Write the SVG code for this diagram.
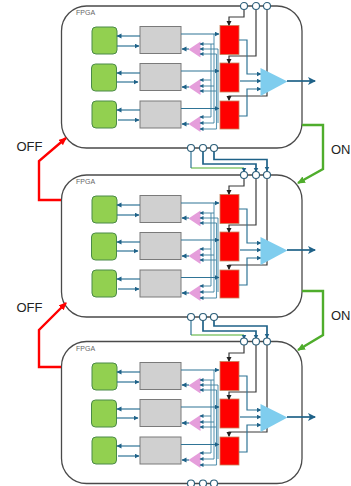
<svg xmlns="http://www.w3.org/2000/svg" xmlns:xlink="http://www.w3.org/1999/xlink" width="351" height="486" viewBox="0 0 351 486">
<style>
text{font-family:"Liberation Sans",Arial,sans-serif}
.lbl{font-size:13px;fill:#222}
.fp{font-size:7px;fill:#666}
.panel{fill:#fff;stroke:#4a4a4a;stroke-width:1.3}
.g{fill:#92d050;stroke:#4a8a48;stroke-width:1}
.b{fill:#d0d0d0;stroke:#7a7a7a;stroke-width:1}
.r{fill:#ff0000;stroke:#c8805a;stroke-width:.8}
.p{fill:#e59edb}
.a{fill:#7fcdee}
.w{fill:none;stroke:#5f9ab5;stroke-width:1.1}
.wa{fill:none;stroke:#2f7496;stroke-width:1.2;marker-end:url(#mb)}
.ws{fill:none;stroke:#3b7d9c;stroke-width:.9;marker-end:url(#ms)}
.t{fill:none;stroke:#1f6288;stroke-width:1.7;marker-end:url(#mb)}
.ka{fill:none;stroke:#3a3a3a;stroke-width:1.2;marker-end:url(#mk)}
.c{fill:#fff;stroke:#2d5f7a;stroke-width:1.1}
.on{fill:none;stroke:#4fad2c;stroke-width:2.4;marker-end:url(#mg)}
.off{fill:none;stroke:#ff0000;stroke-width:2.4;marker-end:url(#mr)}
.gl{fill:none;stroke:#4fad2c;stroke-width:1.2}
</style>
<defs>
<marker id="mb" markerWidth="6" markerHeight="6" refX="4.5" refY="2.5" orient="auto" markerUnits="userSpaceOnUse"><path d="M0 0L5 2.500L0 5z" fill="#1f6288"/></marker>
<marker id="ms" markerWidth="5" markerHeight="5" refX="3.5" refY="2" orient="auto" markerUnits="userSpaceOnUse"><path d="M0 0L4 2L0 4z" fill="#1f6288"/></marker>
<marker id="mk" markerWidth="6" markerHeight="6" refX="4" refY="2.5" orient="auto" markerUnits="userSpaceOnUse"><path d="M0 0L5 2.500L0 5z" fill="#222"/></marker>
<marker id="mg" markerWidth="9" markerHeight="8" refX="7" refY="3.5" orient="auto" markerUnits="userSpaceOnUse"><path d="M0 0L8 3.500L0 7z" fill="#4fad2c"/></marker>
<marker id="mr" markerWidth="9" markerHeight="8" refX="7" refY="3.5" orient="auto" markerUnits="userSpaceOnUse"><path d="M0 0L8 3.500L0 7z" fill="#ff0000"/></marker>
<g id="inner">
<rect class="g" x="92" y="27" width="25" height="27" rx="4"/>
<rect class="g" x="91.500" y="64" width="25" height="27" rx="4"/>
<rect class="g" x="92" y="101" width="24.500" height="27" rx="4"/>
<rect class="b" x="140" y="26.500" width="41" height="27"/>
<rect class="b" x="140" y="63.500" width="41" height="27"/>
<rect class="b" x="140" y="101" width="41" height="27"/>
<path class="wa" d="M140 36H117"/><path class="wa" d="M117 46H139"/>
<path class="wa" d="M140 73H117"/><path class="wa" d="M117 82H138"/>
<path class="wa" d="M140 110H117"/><path class="wa" d="M118 120H139"/>
<path class="w" d="M211 44V91M214 49V123M216.500 54V129M214 34V49M211 71V117M218 49V123"/>
<path class="wa" d="M181 34H219"/>
<path class="wa" d="M181 71H219"/>
<path class="wa" d="M181 108.500H219"/>
<path class="p" d="M188.500 49.500L200.500 41.500V57.500zM188.500 87L200.500 79V95zM188.500 124L200.500 116V132z"/>
<path class="ws" d="M214 44H200"/><path class="ws" d="M218 49H200"/><path class="ws" d="M216.500 54H200"/>
<path class="ws" d="M211 80H200"/><path class="ws" d="M214 86H200"/><path class="ws" d="M216 91H200"/>
<path class="ws" d="M211 117H200"/><path class="ws" d="M214 123H200"/><path class="ws" d="M216.500 129H200"/>
<path class="wa" d="M189 49H182"/><path class="wa" d="M189 87H182"/><path class="wa" d="M189 124H182"/>
<rect class="r" x="220" y="25.500" width="19" height="29"/>
<rect class="r" x="220" y="63" width="19" height="29"/>
<rect class="r" x="220" y="101" width="19" height="28"/>
<path class="ka" d="M244 9V17H229V25"/>
<path class="ka" d="M256 9V56H229V63"/>
<path class="ka" d="M267 9V96H229V100"/>
<path class="wa" d="M239 40H247V74H261"/>
<path class="wa" d="M240 81H261"/>
<path class="wa" d="M239 116H247V89H261"/>
<path class="a" d="M260.500 68L287.500 81.500L260.500 96z"/>
<path d="M287 81H315" fill="none" stroke="#1f6288" stroke-width="1.7"/>
<path d="M308 77L316 81L308 85L310 81z" fill="#1f6288"/>
</g>
</defs>

<g id="panel-1">
<rect class="panel" x="61.500" y="6" width="240.500" height="142" rx="25"/>
<text class="fp" x="76" y="15">FPGA</text>
<use href="#inner" xlink:href="#inner"/>
</g>
<g id="panel-2">
<rect class="panel" x="61.500" y="175" width="240.500" height="142" rx="25"/>
<text class="fp" x="76" y="184">FPGA</text>
<use href="#inner" xlink:href="#inner" y="169"/>
</g>
<g id="panel-3">
<rect class="panel" x="61.500" y="341.500" width="240.500" height="142" rx="25"/>
<text class="fp" x="76" y="351">FPGA</text>
<use href="#inner" xlink:href="#inner" y="336"/>
</g>

<g id="connectors">
<path class="on" d="M302 125H323V169L298 183"/>
<path class="on" d="M302 291H323V335L298 350"/>
<path class="off" d="M61 200H39V161L66 138"/>
<path class="off" d="M61 367H39V330L66 303"/>
<path class="gl" d="M191 168H244"/>
<path class="wa" d="M191 151V168" style="marker-end:none"/>
<path class="t" d="M244 168V172"/>
<path class="t" d="M203 151V164H256V172"/>
<path class="t" d="M214 151V159.500H267V171"/>
<path class="gl" d="M191 335H244"/>
<path class="wa" d="M191 320V335" style="marker-end:none"/>
<path class="t" d="M244 335V339"/>
<path class="t" d="M203 320V331H256V339"/>
<path class="t" d="M214 320V326H267V338"/>
</g>

<g id="ports">
<g class="c"><circle cx="244" cy="6" r="3.500"/><circle cx="256" cy="6" r="3.500"/><circle cx="267" cy="6" r="3.500"/>
<circle cx="191" cy="148" r="3.500"/><circle cx="203" cy="148" r="3.500"/><circle cx="214" cy="148" r="3.500"/>
<circle cx="244" cy="175" r="3.500"/><circle cx="256" cy="175" r="3.500"/><circle cx="267" cy="175" r="3.500"/>
<circle cx="191" cy="317" r="3.500"/><circle cx="203" cy="317" r="3.500"/><circle cx="214" cy="317" r="3.500"/>
<circle cx="244" cy="341.500" r="3.500"/><circle cx="256" cy="341.500" r="3.500"/><circle cx="267" cy="341.500" r="3.500"/>
<circle cx="191" cy="483.500" r="3.500"/><circle cx="203" cy="483.500" r="3.500"/><circle cx="214" cy="483.500" r="3.500"/></g>
</g>

<text class="lbl" x="16.500" y="151">OFF</text>
<text class="lbl" x="16.500" y="312">OFF</text>
<text class="lbl" x="331" y="154">ON</text>
<text class="lbl" x="331" y="320">ON</text>
</svg>
